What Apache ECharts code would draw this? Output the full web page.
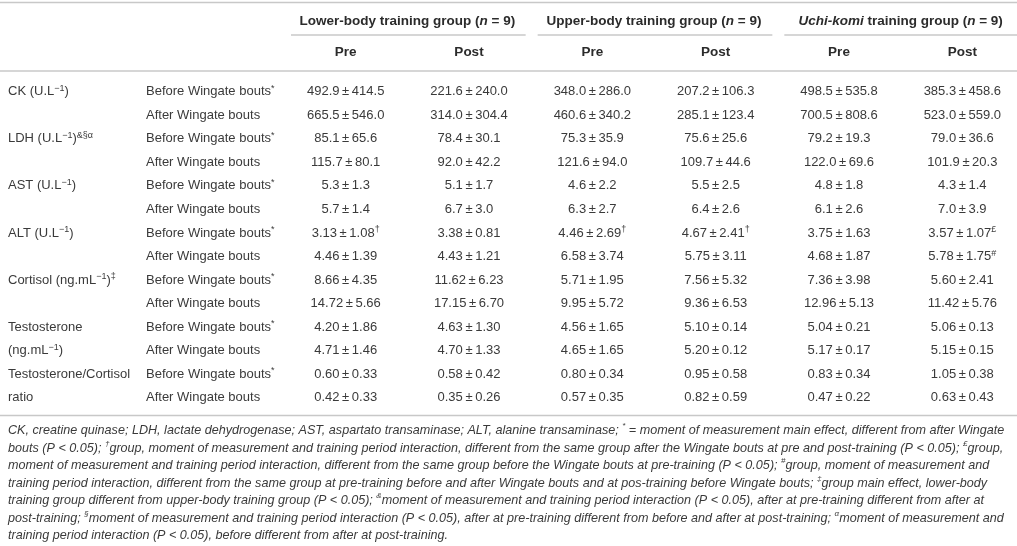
<!DOCTYPE html>
<html>
<head>
<meta charset="utf-8">
<script src="https://cdn.jsdelivr.net/npm/echarts@6/dist/echarts.min.js"></script>
<style>
  html, body { margin: 0; padding: 0; background: #fff; }
  #chart { width: 1017px; height: 546px; }
</style>
</head>
<body>
<div id="chart"></div>
<script>
// ── table content ─────────────────────────────
// "^{x}" marks a superscript, "_x_" marks italic text
const groups = [
  "Lower-body training group (_n_ = 9)",
  "Upper-body training group (_n_ = 9)",
  "_Uchi-komi_ training group (_n_ = 9)",
];
const periods = ["Pre", "Post", "Pre", "Post", "Pre", "Post"];

const variables = [
  "CK (U.L^{−1})", "",
  "LDH (U.L^{−1})^{&§α}", "",
  "AST (U.L^{−1})", "",
  "ALT (U.L^{−1})", "",
  "Cortisol (ng.mL^{−1})^{‡}", "",
  "Testosterone", "(ng.mL^{−1})",
  "Testosterone/Cortisol", "ratio",
];
const moments = [
  "Before Wingate bouts^{*}", "After Wingate bouts",
  "Before Wingate bouts^{*}", "After Wingate bouts",
  "Before Wingate bouts^{*}", "After Wingate bouts",
  "Before Wingate bouts^{*}", "After Wingate bouts",
  "Before Wingate bouts^{*}", "After Wingate bouts",
  "Before Wingate bouts^{*}", "After Wingate bouts",
  "Before Wingate bouts^{*}", "After Wingate bouts",
];

const lowerPre = ["492.9 ± 414.5", "665.5 ± 546.0", "85.1 ± 65.6", "115.7 ± 80.1", "5.3 ± 1.3", "5.7 ± 1.4",
  "3.13 ± 1.08^{†}", "4.46 ± 1.39", "8.66 ± 4.35", "14.72 ± 5.66", "4.20 ± 1.86", "4.71 ± 1.46", "0.60 ± 0.33", "0.42 ± 0.33"];
const lowerPost = ["221.6 ± 240.0", "314.0 ± 304.4", "78.4 ± 30.1", "92.0 ± 42.2", "5.1 ± 1.7", "6.7 ± 3.0",
  "3.38 ± 0.81", "4.43 ± 1.21", "11.62 ± 6.23", "17.15 ± 6.70", "4.63 ± 1.30", "4.70 ± 1.33", "0.58 ± 0.42", "0.35 ± 0.26"];
const upperPre = ["348.0 ± 286.0", "460.6 ± 340.2", "75.3 ± 35.9", "121.6 ± 94.0", "4.6 ± 2.2", "6.3 ± 2.7",
  "4.46 ± 2.69^{†}", "6.58 ± 3.74", "5.71 ± 1.95", "9.95 ± 5.72", "4.56 ± 1.65", "4.65 ± 1.65", "0.80 ± 0.34", "0.57 ± 0.35"];
const upperPost = ["207.2 ± 106.3", "285.1 ± 123.4", "75.6 ± 25.6", "109.7 ± 44.6", "5.5 ± 2.5", "6.4 ± 2.6",
  "4.67 ± 2.41^{†}", "5.75 ± 3.11", "7.56 ± 5.32", "9.36 ± 6.53", "5.10 ± 0.14", "5.20 ± 0.12", "0.95 ± 0.58", "0.82 ± 0.59"];
const uchiPre = ["498.5 ± 535.8", "700.5 ± 808.6", "79.2 ± 19.3", "122.0 ± 69.6", "4.8 ± 1.8", "6.1 ± 2.6",
  "3.75 ± 1.63", "4.68 ± 1.87", "7.36 ± 3.98", "12.96 ± 5.13", "5.04 ± 0.21", "5.17 ± 0.17", "0.83 ± 0.34", "0.47 ± 0.22"];
const uchiPost = ["385.3 ± 458.6", "523.0 ± 559.0", "79.0 ± 36.6", "101.9 ± 20.3", "4.3 ± 1.4", "7.0 ± 3.9",
  "3.57 ± 1.07^{£}", "5.78 ± 1.75^{#}", "5.60 ± 2.41", "11.42 ± 5.76", "5.06 ± 0.13", "5.15 ± 0.15", "1.05 ± 0.38", "0.63 ± 0.43"];

const footnote = [
  "CK, creatine quinase; LDH, lactate dehydrogenase; AST, aspartato transaminase; ALT, alanine transaminase; ^{*} = moment of measurement main effect, different from after Wingate",
  "bouts (P < 0.05); ^{†}group, moment of measurement and training period interaction, different from the same group after the Wingate bouts at pre and post-training (P < 0.05); ^{£}group,",
  "moment of measurement and training period interaction, different from the same group before the Wingate bouts at pre-training (P < 0.05); ^{#}group, moment of measurement and",
  "training period interaction, different from the same group at pre-training before and after Wingate bouts and at pos-training before Wingate bouts; ^{‡}group main effect, lower-body",
  "training group different from upper-body training group (P < 0.05); ^{&}moment of measurement and training period interaction (P < 0.05), after at pre-training different from after at",
  "post-training; ^{§}moment of measurement and training period interaction (P < 0.05), after at pre-training different from before and after at post-training; ^{α}moment of measurement and",
  "training period interaction (P < 0.05), before different from after at post-training.",
];

// ── styles ─────────────────────────────
const FONT = "'Liberation Sans', Arial, Helvetica, sans-serif";
const TEXT = "#3a3a3a";
const HEAD = "#2b2b2b";
const RULE = "#c8c8c8";

const columns = [lowerPre, lowerPost, upperPre, upperPost, uchiPre, uchiPost];
const cells = [];
columns.forEach((col, c) => col.forEach((v, r) => cells.push({ value: [c, r], text: v })));

function toRich(s) {
  return s.replace(/ ± /g, "\u2009±\u2009")
    .replace(/\^\{([^}]*)\}/g, "{sup|$1}")
    .replace(/_([^_]+)_/g, "{it|$1}");
}

const supRich = {
  sup: { fontSize: 9, lineHeight: 9, verticalAlign: "top", fontFamily: FONT, color: TEXT, fill: TEXT },
};

const chart = echarts.init(document.getElementById("chart"), null, { renderer: "canvas" });

chart.setOption({
  backgroundColor: "#fff",
  animation: false,
  tooltip: { show: false },
  grid: { left: 284, right: -7, top: 80, bottom: 136.5, containLabel: false, outerBoundsMode: "none" },
  xAxis: [
    {
      type: "category", data: periods, position: "top",
      axisLine: { show: false }, axisTick: { show: false }, splitLine: { show: false },
      axisLabel: { interval: 0, margin: 28, verticalAlign: "middle", color: HEAD, fontWeight: "bold", fontSize: 13.5, fontFamily: FONT },
    },
    {
      type: "category", data: groups, position: "top",
      axisLine: { show: false }, axisTick: { show: false }, splitLine: { show: false },
      axisLabel: {
        interval: 0, margin: 59, verticalAlign: "middle", color: HEAD, fontWeight: "bold", fontSize: 13.5, fontFamily: FONT,
        formatter: (v) => toRich(v),
        rich: { it: { fontStyle: "italic", fontWeight: "bold", fontSize: 13.5, fontFamily: FONT, color: HEAD } },
      },
    },
  ],
  yAxis: [
    {
      type: "category", data: moments, inverse: true, position: "left",
      axisLine: { show: false }, axisTick: { show: false }, splitLine: { show: false },
      axisLabel: {
        interval: 0, margin: 138, align: "left", color: TEXT, fontSize: 13, lineHeight: 16, fontFamily: FONT,
        formatter: (v) => toRich(v), rich: supRich,
      },
    },
    {
      type: "category", data: variables, inverse: true, position: "left",
      axisLine: { show: false }, axisTick: { show: false }, splitLine: { show: false },
      axisLabel: {
        interval: 0, margin: 276, align: "left", color: TEXT, fontSize: 13, lineHeight: 16, fontFamily: FONT,
        formatter: (v) => toRich(v), rich: supRich,
      },
    },
  ],
  graphic: [
    // horizontal table rules
    { type: "line", shape: { x1: 0, y1: 2.5, x2: 1017, y2: 2.5 }, style: { stroke: RULE, lineWidth: 1.5 } },
    { type: "line", shape: { x1: 0, y1: 71, x2: 1017, y2: 71 }, style: { stroke: RULE, lineWidth: 1.5 } },
    { type: "line", shape: { x1: 0, y1: 415.5, x2: 1017, y2: 415.5 }, style: { stroke: RULE, lineWidth: 1.5 } },
    // footnote
    {
      type: "text", left: 8, top: 422,
      style: {
        text: footnote.map(toRich).join("\n"),
        fill: TEXT, fontSize: 12.6, fontStyle: "italic", fontFamily: FONT, lineHeight: 17.5,
        rich: { sup: { fontSize: 8, lineHeight: 8, verticalAlign: "top", fontStyle: "italic", fontFamily: FONT, fill: TEXT } },
      },
    },
  ],
  series: [
    {
      // value cells
      type: "custom", xAxisIndex: 0, yAxisIndex: 0, clip: false,
      data: cells.map((d) => d.value),
      renderItem: (params, api) => {
        const p = api.coord([api.value(0), api.value(1)]);
        return {
          type: "text", x: p[0], y: p[1],
          style: {
            text: toRich(cells[params.dataIndex].text),
            align: "center", verticalAlign: "middle",
            fill: TEXT, fontSize: 13, lineHeight: 16, fontFamily: FONT,
            rich: supRich,
          },
        };
      },
    },
    {
      // rule under each group header
      type: "custom", xAxisIndex: 1, yAxisIndex: 0, clip: false,
      data: groups.map((g, i) => [i, 0]),
      renderItem: (params, api) => {
        const p = api.coord([api.value(0), 0]);
        const bw = api.size([1, 0])[0];
        return {
          type: "line",
          shape: { x1: p[0] - bw / 2 + 7, y1: 35, x2: p[0] + bw / 2 - 5, y2: 35 },
          style: { stroke: RULE, lineWidth: 1.5 },
        };
      },
    },
  ],
});
</script>
</body>
</html>
